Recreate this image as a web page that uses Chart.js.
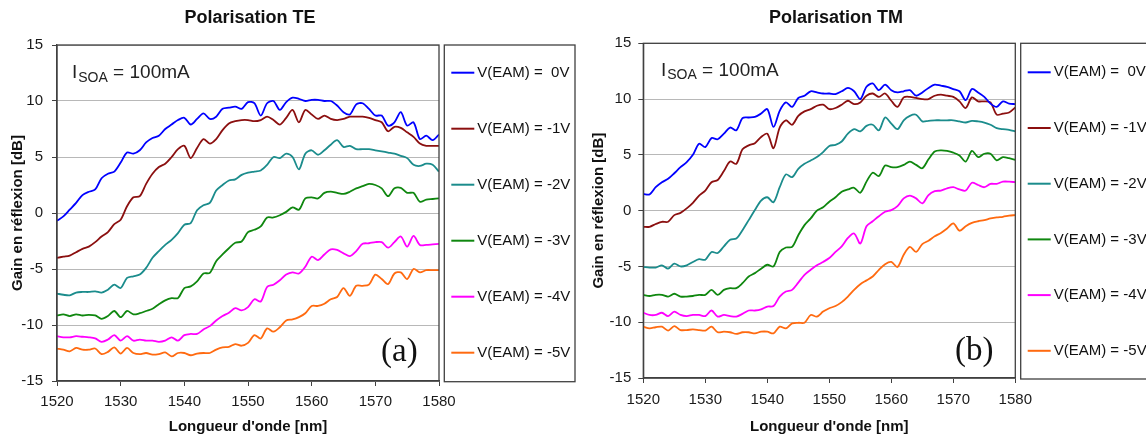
<!DOCTYPE html>
<html lang="fr">
<head>
<meta charset="utf-8">
<title>Gain en réflexion – polarisations TE / TM</title>
<script src="https://cdn.jsdelivr.net/npm/chart.js@4.4.1/dist/chart.umd.min.js"></script>
<style>
  html, body { margin: 0; padding: 0; background: #fff; }
  #wrap { position: relative; width: 1146px; height: 441px; overflow: hidden; }
  .panel { position: absolute; top: 0; height: 441px; }
  #panelTE { left: 0; width: 580px; }
  #panelTM { left: 580px; width: 566px; }
</style>
</head>
<body>
<div id="wrap">
  <div class="panel" id="panelTE"><canvas id="chartTE"></canvas></div>
  <div class="panel" id="panelTM"><canvas id="chartTM"></canvas></div>
</div>
<script>
// wavelength grid, 1 nm step
const wavelengths = [
  1520, 1521, 1522, 1523, 1524, 1525, 1526, 1527, 1528, 1529,
  1530, 1531, 1532, 1533, 1534, 1535, 1536, 1537, 1538, 1539,
  1540, 1541, 1542, 1543, 1544, 1545, 1546, 1547, 1548, 1549,
  1550, 1551, 1552, 1553, 1554, 1555, 1556, 1557, 1558, 1559,
  1560, 1561, 1562, 1563, 1564, 1565, 1566, 1567, 1568, 1569,
  1570, 1571, 1572, 1573, 1574, 1575, 1576, 1577, 1578, 1579,
  1580
];
const xTicks = [1520, 1530, 1540, 1550, 1560, 1570, 1580];
const yTicks = [-15, -10, -5, 0, 5, 10, 15];

const legendLabels = [
  "V(EAM) =  0V", "V(EAM) = -1V", "V(EAM) = -2V",
  "V(EAM) = -3V", "V(EAM) = -4V", "V(EAM) = -5V"
];
const lineColors = ["#0000ff", "#8b0f0f", "#1b8c8c", "#0f870f", "#ff00ff", "#ff6a10"];

// gain [dB], polarisation TE
const te_0V = [
  -0.7, -0.3, 0.3, 0.9, 1.6, 1.9, 2.1, 3.1, 3.5, 3.7,
  4.5, 5.4, 5.3, 5.6, 6.3, 6.7, 6.9, 7.5, 7.9, 8.3,
  8.5, 7.9, 8.4, 8.9, 8.4, 8.6, 9.3, 9.4, 9.5, 9.3,
  9.9, 9.8, 8.7, 9.8, 10.0, 9.2, 9.9, 10.3, 10.2, 10.0,
  10.1, 10.1, 10.0, 10.0, 9.6, 9.0, 8.8, 9.7, 9.8, 9.3,
  8.7, 8.7, 7.8, 8.1, 9.0, 7.8, 8.1, 6.6, 6.9, 6.5,
  7.0
];
const te_m1V = [
  -4.0, -3.9, -3.8, -3.5, -3.2, -3.0, -2.6, -2.1, -1.7, -1.0,
  -0.6, 0.6, 1.4, 1.5, 2.6, 3.5, 4.1, 4.4, 5.0, 5.7,
  6.0, 4.9, 5.8, 6.6, 6.2, 6.6, 7.4, 8.0, 8.2, 8.3,
  8.3, 8.2, 8.3, 8.6, 8.3, 7.9, 8.5, 9.2, 8.1, 9.2,
  8.8, 8.4, 8.7, 8.4, 8.3, 8.4, 8.6, 8.6, 8.6, 8.5,
  8.3, 8.1, 7.3, 7.7, 7.6, 7.2, 6.8, 6.2, 6.0, 6.0,
  6.0
];
const te_m2V = [
  -7.2, -7.3, -7.35, -7.1, -7.05, -7.05, -7.0, -7.1, -6.85, -6.4,
  -6.7, -5.8, -5.65, -5.5, -4.9, -4.0, -3.4, -2.85, -2.4, -1.8,
  -1.05, -0.9, 0.25, 0.7, 0.9, 2.0, 2.5, 2.9, 3.0, 3.4,
  3.6, 3.7, 3.8, 4.3, 5.0, 4.9, 5.3, 5.0, 3.9, 5.3,
  5.6, 5.2, 5.6, 6.1, 6.5, 5.9, 6.0, 5.7, 5.7, 5.7,
  5.6, 5.5, 5.4, 5.3, 5.1, 4.9, 4.3, 4.2, 4.4, 4.3,
  3.7
];
const te_m3V = [
  -9.15, -9.05, -9.2, -9.05, -9.15, -9.1, -9.15, -9.45, -9.2, -8.75,
  -9.3, -8.75, -9.05, -8.95, -8.75, -8.55, -8.15, -7.8, -7.6, -7.6,
  -6.7, -6.55, -6.1, -5.4, -5.35, -4.3, -3.7, -3.15, -2.65, -2.55,
  -1.7, -1.5, -1.2, -0.4, -0.4, -0.2, 0.1, 0.5, 0.3, 1.3,
  1.4, 1.3, 1.8, 1.9, 1.8, 1.7, 1.9, 2.2, 2.4, 2.6,
  2.5, 2.2, 1.5, 2.2, 2.25, 1.8, 1.8, 1.0, 1.2, 1.25,
  1.3
];
const te_m4V = [
  -11.0, -11.1, -11.1, -11.0, -11.05, -11.1, -11.2, -11.5, -11.3, -10.9,
  -11.4, -11.0, -11.4, -11.3, -11.4, -11.4, -11.5, -11.4, -11.1, -11.4,
  -10.9, -10.8, -10.8, -10.4, -10.1, -9.6, -9.2, -8.9, -8.5, -8.7,
  -8.4, -7.7, -7.9, -6.6, -6.4, -6.0, -5.5, -5.3, -5.4, -4.8,
  -3.9, -4.2, -3.7, -3.25, -3.3, -3.6, -3.85, -3.4, -2.75, -2.7,
  -2.6, -2.6, -3.1, -2.6, -2.1, -3.0, -2.05, -2.85, -2.85, -2.8,
  -2.75
];
const te_m5V = [
  -12.1, -12.2, -12.35, -12.05, -12.2, -12.2, -12.1, -12.6, -12.4, -12.0,
  -12.55, -12.05, -12.5, -12.6, -12.5, -12.65, -12.6, -12.45, -12.8, -12.5,
  -12.5, -12.7, -12.55, -12.5, -12.5, -12.2, -12.0, -11.95, -11.7, -11.85,
  -11.6, -10.9, -11.2, -10.3, -10.6, -10.2, -9.6, -9.5, -9.3, -8.95,
  -8.3, -8.3, -8.1, -7.7, -7.5, -6.7, -7.4, -6.5, -6.5, -6.4,
  -5.5, -5.9, -6.35, -5.4, -5.3, -5.9, -5.0, -5.3, -5.1, -5.1,
  -5.1
];

// gain [dB], polarisation TM
const tm_0V = [
  1.5, 1.45, 2.1, 2.55, 2.85, 3.35, 3.9, 4.35, 5.0, 6.0,
  5.7, 6.5, 6.4, 6.9, 7.45, 7.2, 8.3, 8.35, 8.4, 8.7,
  9.1, 7.5, 8.95, 9.7, 9.3, 10.1, 10.3, 10.7, 10.6, 10.5,
  10.5, 10.45, 10.7, 11.0, 10.7, 10.0, 11.1, 11.4, 10.8, 11.3,
  10.8, 10.6, 10.7, 10.8, 10.3, 10.6, 11.0, 11.3, 11.2, 11.1,
  10.9, 10.7, 9.9, 10.9, 10.6, 10.2, 9.6, 9.3, 9.8, 9.6,
  9.55
];
const tm_m1V = [
  -1.45, -1.45, -1.2, -1.0, -1.0, -0.4, -0.2, 0.2, 0.7, 1.35,
  1.8, 2.55, 2.75, 3.55, 4.4, 4.2, 5.5, 5.85, 6.05, 6.6,
  6.9, 5.6, 7.45, 8.1, 7.7, 8.5, 8.9, 9.1, 9.4, 9.5,
  9.1, 9.2, 9.5, 9.85, 9.55, 9.7, 10.3, 10.5, 10.2, 10.5,
  9.85, 9.3, 10.15, 10.2, 10.1, 10.0, 10.0, 10.3, 10.4, 10.3,
  10.2, 9.8, 9.2, 10.15, 9.8, 9.8, 9.7, 8.6, 8.7, 8.8,
  9.25
];
const tm_m2V = [
  -5.05, -5.1, -5.1, -4.9, -5.2, -4.75, -5.0, -4.9, -4.6, -4.35,
  -4.4, -3.7, -3.8, -3.2, -2.6, -2.5, -1.75, -0.85, 0.05, 0.9,
  1.2, 0.75, 2.1, 3.25, 3.0, 3.75, 4.2, 4.5, 4.8, 5.25,
  5.8, 5.9, 6.2, 6.9, 7.3, 7.1, 7.6, 7.7, 7.2, 8.35,
  7.8, 7.3, 8.1, 8.5, 8.6, 8.0, 8.05, 8.1, 8.1, 8.1,
  8.1, 8.0, 7.9, 8.05, 8.0, 7.9, 7.7, 7.4, 7.3, 7.25,
  7.1
];
const tm_m3V = [
  -7.55, -7.65, -7.55, -7.55, -7.7, -7.45, -7.7, -7.7, -7.65, -7.55,
  -7.55, -7.1, -7.55, -7.1, -6.95, -6.95, -6.5, -5.9, -5.6, -5.2,
  -4.85, -5.0, -3.7, -3.3, -3.25, -2.2, -1.3, -0.7, 0.0, 0.3,
  0.8, 1.2, 1.7, 1.9, 2.05, 1.6, 2.6, 3.4, 3.1, 4.05,
  3.9, 3.9, 4.1, 4.4, 4.1, 3.8, 4.6, 5.3, 5.4, 5.35,
  5.2, 4.95, 4.4, 5.35, 4.8, 5.1, 5.1, 4.5, 4.8, 4.7,
  4.55
];
const tm_m4V = [
  -9.15, -9.35, -9.35, -9.15, -9.45, -9.05, -9.35, -9.45, -9.35, -9.35,
  -9.45, -8.95, -9.5, -9.35, -9.45, -9.5, -9.25, -8.95, -8.95, -8.85,
  -8.6, -8.55, -7.7, -7.25, -7.1, -6.45, -5.75, -5.3, -4.9, -4.6,
  -4.25, -3.7, -3.2, -2.45, -2.05, -2.95, -1.4, -0.95, -0.5, -0.1,
  0.05, 0.4, 1.1, 1.35, 1.1, 0.65, 1.4, 1.75, 1.8, 2.0,
  2.1, 1.9, 1.8, 2.5, 2.3, 2.1, 2.4, 2.4, 2.6, 2.6,
  2.55
];
const tm_m5V = [
  -10.4, -10.55, -10.45, -10.4, -10.75, -10.35, -10.7, -10.7, -10.65, -10.7,
  -10.75, -10.4, -10.9, -10.85, -10.9, -11.05, -10.9, -10.9, -11.0, -10.85,
  -10.85, -11.0, -10.4, -10.55, -10.1, -10.05, -10.05, -9.35, -9.5, -9.05,
  -8.75, -8.55, -8.2, -7.7, -7.1, -6.6, -6.25, -5.9, -5.3, -4.8,
  -4.6, -5.05, -3.95, -3.25, -3.7, -3.0, -2.7, -2.3, -2.0, -1.6,
  -1.15, -1.8, -1.4, -1.1, -0.95, -0.85, -0.7, -0.6, -0.55, -0.45,
  -0.4
];

const FONT = '"Liberation Sans", Arial, sans-serif';
const FRAME = "#404040";
Chart.defaults.font.family = FONT;
Chart.defaults.color = "#1a1a1a";

function toPoints(values) {
  return values.map((v, i) => ({ x: wavelengths[i], y: v }));
}

function buildDatasets(list) {
  return list.map((vals, i) => ({
    label: legendLabels[i],
    data: toPoints(vals),
    borderColor: lineColors[i],
    backgroundColor: lineColors[i],
    borderWidth: 1.8,
    pointRadius: 0,
    tension: 0.3,
    fill: false
  }));
}

// frame, title, I_SOA note, panel letter and boxed legend
const panelDeco = {
  id: "panelDeco",
  afterDraw(chart, args, o) {
    const { ctx, chartArea: a } = chart;
    ctx.save();
    ctx.strokeStyle = FRAME;
    ctx.lineWidth = 1.3;
    ctx.strokeRect(a.left, a.top, a.right - a.left, a.bottom - a.top);

    ctx.fillStyle = "#111";
    ctx.textAlign = "center";
    ctx.textBaseline = "middle";
    ctx.font = "bold 18px " + FONT;
    ctx.fillText(o.title, o.titleX, 18);

    // I_SOA = 100mA with subscript
    ctx.textAlign = "left";
    ctx.textBaseline = "alphabetic";
    ctx.fillStyle = "#222";
    let x = o.noteX;
    ctx.font = "19px " + FONT;
    ctx.fillText("I", x, o.noteY);
    x += ctx.measureText("I").width + 1;
    ctx.font = "14px " + FONT;
    ctx.fillText("SOA", x, o.noteY + 3.4);
    x += ctx.measureText("SOA").width;
    ctx.font = "19px " + FONT;
    ctx.fillText(" = 100mA", x, o.noteY);

    ctx.fillStyle = "#111";
    ctx.font = '33px "Liberation Serif", "Times New Roman", serif';
    ctx.fillText(o.letter, o.letterX, o.letterY);

    // legend
    const L = o.legend;
    ctx.strokeStyle = FRAME;
    ctx.lineWidth = 1.3;
    ctx.strokeRect(L.x, L.y, L.w, L.h);
    ctx.font = "15px " + FONT;
    ctx.textBaseline = "middle";
    chart.data.datasets.forEach((ds, i) => {
      const y = L.firstY + i * L.step;
      ctx.strokeStyle = ds.borderColor;
      ctx.lineWidth = 2;
      ctx.beginPath();
      ctx.moveTo(L.x + 7, y);
      ctx.lineTo(L.x + 30, y);
      ctx.stroke();
      ctx.fillStyle = "#111";
      ctx.fillText(ds.label, L.x + 33, y);
    });
    ctx.restore();
  }
};

function makeChart(canvasId, datasets, g) {
  return new Chart(document.getElementById(canvasId), {
    type: "line",
    data: { datasets },
    plugins: [panelDeco],
    options: {
      responsive: true,
      maintainAspectRatio: false,
      animation: false,
      layout: { padding: { left: 0, right: g.padRight, top: g.padTop, bottom: 0 } },
      plugins: {
        legend: { display: false },
        tooltip: { enabled: false },
        title: { display: false },
        panelDeco: g.deco
      },
      scales: {
        x: {
          type: "linear",
          min: xTicks[0],
          max: xTicks[xTicks.length - 1],
          afterBuildTicks: s => { s.ticks = xTicks.map(v => ({ value: v })); },
          ticks: { padding: g.xTickPad, font: { size: 15 }, maxRotation: 0, callback: v => String(v) },
          grid: { drawOnChartArea: false, tickColor: FRAME, tickLength: 5 },
          border: { color: FRAME, width: 1.3 },
          title: {
            display: true, text: "Longueur d'onde [nm]", color: "#111",
            font: { size: 15, weight: "bold" }, padding: { top: 0, bottom: 5 }
          },
          afterFit: s => { s.height = g.xAxisH; }
        },
        y: {
          min: yTicks[0],
          max: yTicks[yTicks.length - 1],
          afterBuildTicks: s => { s.ticks = yTicks.map(v => ({ value: v })); },
          ticks: { padding: g.yTickPad, font: { size: 15 }, callback: v => String(v) },
          grid: { color: "#b8b8b8", lineWidth: 1, tickColor: FRAME, tickLength: 5 },
          border: { color: FRAME, width: 1.3 },
          title: {
            display: true, text: "Gain en réflexion [dB]", color: "#111",
            font: { size: 15, weight: "bold" }, padding: { top: g.yTitlePad, bottom: 0 }
          },
          afterFit: s => { s.width = g.yAxisW; }
        }
      }
    }
  });
}

makeChart("chartTE", buildDatasets([te_0V, te_m1V, te_m2V, te_m3V, te_m4V, te_m5V]), {
  padRight: 141, padTop: 45, yAxisW: 57, xAxisH: 60,
  xTickPad: 7, yTickPad: 9, yTitlePad: 9,
  deco: {
    title: "Polarisation TE", titleX: 250,
    noteX: 72, noteY: 78.3,
    letter: "(a)", letterX: 381, letterY: 361,
    legend: { x: 444.3, y: 45, w: 130.7, h: 336.7, firstY: 72.7, step: 56 }
  }
});

makeChart("chartTM", buildDatasets([tm_0V, tm_m1V, tm_m2V, tm_m3V, tm_m4V, tm_m5V]), {
  padRight: 130.7, padTop: 43.3, yAxisW: 63.3, xAxisH: 63,
  xTickPad: 8, yTickPad: 7, yTitlePad: 9.5,
  deco: {
    title: "Polarisation TM", titleX: 256,
    noteX: 81, noteY: 76,
    letter: "(b)", letterX: 375, letterY: 360,
    legend: { x: 440.7, y: 43.3, w: 200, h: 335.7, firstY: 72.3, step: 55.7 }
  }
});
</script>
</body>
</html>
